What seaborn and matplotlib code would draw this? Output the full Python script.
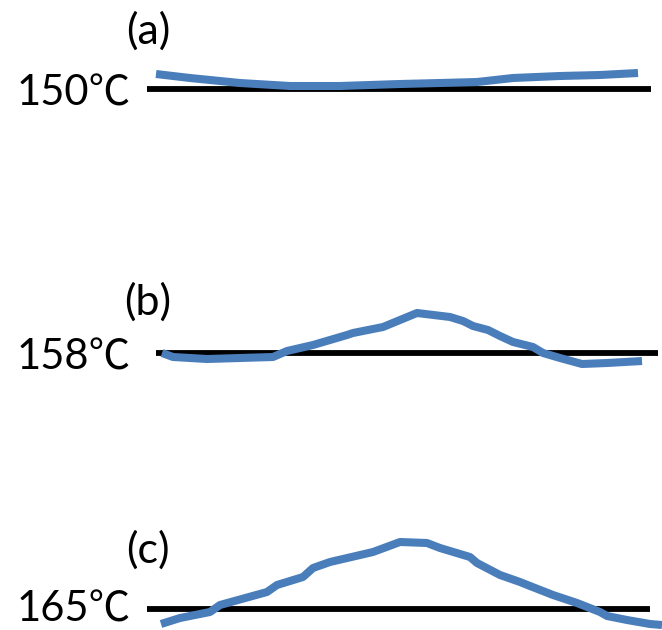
import matplotlib
matplotlib.use('Agg')
import matplotlib.pyplot as plt
import seaborn as sns

# Surface profiles at three temperatures (x = position along sample, y = height above the reference line)
labels = ['(a)', '(b)', '(c)']
temps = ['150℃', '158℃', '165℃']

pos_a = [156, 190, 240, 290, 340, 400, 440, 477, 513, 560, 600, 638]
dev_a = [15, 11, 6, 3, 3, 5, 6, 7, 11, 13, 14, 16]

pos_b = [162, 173, 207, 273, 287, 313, 347, 353, 383, 400, 417, 450, 463, 473,
         488, 500, 513, 533, 543, 560, 582, 607, 642]
dev_b = [0, -4, -6, -4, 2, 8, 18, 20, 26, 33, 40, 36, 32, 27,
         23, 17, 11, 6, 0, -5, -11, -10, -8]

pos_c = [161, 180, 210, 220, 267, 277, 303, 313, 330, 373, 400, 427, 440, 470,
         477, 500, 520, 530, 553, 577, 600, 607, 627, 650, 662]
dev_c = [-15, -9, -3, 4, 17, 24, 32, 41, 47, 57, 67, 66, 61, 52,
         46, 34, 27, 23, 14, 6, -3, -7, -11, -15, -16]

# extent of the flat reference line in each panel
ref_start = [147, 156, 147]
ref_end = [651, 658, 650]

profiles = [(pos_a, dev_a), (pos_b, dev_b), (pos_c, dev_c)]

sns.set_style('white')
plt.rcParams['font.family'] = ['Lato', 'Noto Sans CJK JP', 'DejaVu Sans']
plt.rcParams['text.color'] = 'black'

fig = plt.figure(figsize=(6.62, 6.30), dpi=100)

# pixel row of each reference line, used only to place the panels
baselines = [89, 353, 609]
temp_drop = [-17, -17, -12]
label_lift = [45, 38, 46]
band = 210

for i, (x, y) in enumerate(profiles):
    ax = fig.add_axes([0, 1 - band * (i + 1) / 630, 1, band / 630])
    yb = baselines[i]
    ax.set_xlim(0, 662)
    ax.set_ylim(-(band * (i + 1) - yb), yb - band * i)
    ax.axis('off')

    ax.hlines(0, ref_start[i], ref_end[i], color='black', linewidth=4.2, zorder=1)
    sns.lineplot(x=x, y=y, ax=ax, color='#4a7ebb', linewidth=5.8,
                 estimator=None, sort=False, zorder=2)
    for ln in ax.get_lines():
        ln.set_solid_capstyle('butt')

    ax.text(131, temp_drop[i], temps[i], ha='right', va='baseline', fontsize=30)
    ax.text(148, label_lift[i], labels[i], ha='center', va='baseline', fontsize=31)

plt.savefig('out.png', dpi=100)
